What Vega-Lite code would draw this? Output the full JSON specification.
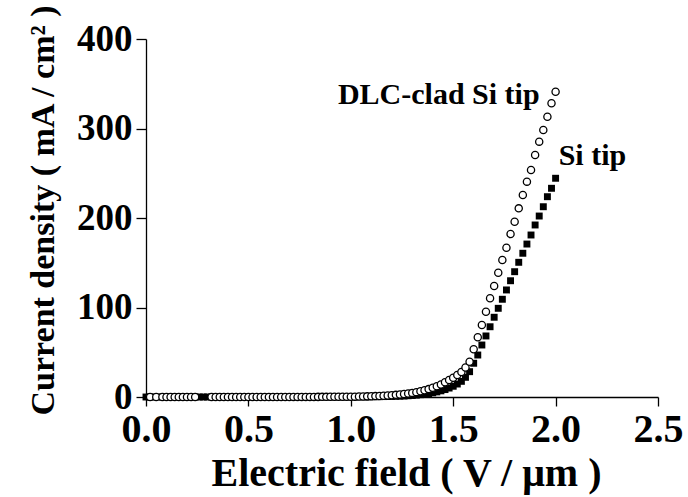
{
  "$schema": "https://vega.github.io/schema/vega-lite/v6.json",
  "autosize": {"type": "none"},
  "width": 512,
  "height": 358,
  "padding": {"left": 146, "top": 39, "right": 30, "bottom": 100},
  "background": "white",
  "config": {
    "view": {"stroke": null},
    "axis": {
      "grid": false,
      "domainColor": "black",
      "domainWidth": 1.3,
      "tickColor": "black",
      "tickWidth": 1.3,
      "labelColor": "black",
      "titleColor": "black",
      "labelFont": "Liberation Serif",
      "titleFont": "Liberation Serif",
      "labelFontWeight": "bold",
      "titleFontWeight": "bold",
      "labelOverlap": false,
      "labelFlush": false
    }
  },
  "datasets": {
    "si": [
      {"x":0.00,"y":0},{"x":0.02,"y":0},{"x":0.04,"y":0},{"x":0.06,"y":0},{"x":0.08,"y":0},{"x":0.10,"y":0},{"x":0.12,"y":0},{"x":0.14,"y":0},{"x":0.16,"y":0},{"x":0.18,"y":0},
      {"x":0.20,"y":0},{"x":0.22,"y":0},{"x":0.24,"y":0},{"x":0.26,"y":0},{"x":0.28,"y":0},{"x":0.30,"y":0},{"x":0.32,"y":0},{"x":0.34,"y":0},{"x":0.36,"y":0},{"x":0.38,"y":0},
      {"x":0.40,"y":0},{"x":0.42,"y":0},{"x":0.44,"y":0},{"x":0.46,"y":0},{"x":0.48,"y":0},{"x":0.50,"y":0},{"x":0.52,"y":0},{"x":0.54,"y":0},{"x":0.56,"y":0},{"x":0.58,"y":0},
      {"x":0.60,"y":0},{"x":0.62,"y":0},{"x":0.64,"y":0},{"x":0.66,"y":0},{"x":0.68,"y":0},{"x":0.70,"y":0},{"x":0.72,"y":0},{"x":0.74,"y":0},{"x":0.76,"y":0},{"x":0.78,"y":0},
      {"x":0.80,"y":0},{"x":0.82,"y":0},{"x":0.84,"y":0},{"x":0.86,"y":0},{"x":0.88,"y":0},{"x":0.90,"y":0},{"x":0.92,"y":0.05},{"x":0.94,"y":0.06},{"x":0.96,"y":0.08},{"x":0.98,"y":0.1},
      {"x":1.00,"y":0.12},{"x":1.02,"y":0.14},{"x":1.04,"y":0.17},{"x":1.06,"y":0.2},{"x":1.08,"y":0.24},{"x":1.10,"y":0.28},{"x":1.12,"y":0.33},{"x":1.14,"y":0.4},{"x":1.16,"y":0.47},{"x":1.18,"y":0.55},
      {"x":1.20,"y":0.65},{"x":1.22,"y":0.77},{"x":1.24,"y":0.9},{"x":1.26,"y":1.1},{"x":1.28,"y":1.4},{"x":1.30,"y":1.7},{"x":1.32,"y":2.1},{"x":1.34,"y":2.6},{"x":1.36,"y":3.2},{"x":1.38,"y":3.9},
      {"x":1.40,"y":4.7},{"x":1.42,"y":5.7},{"x":1.44,"y":6.9},{"x":1.46,"y":8.3},{"x":1.48,"y":10},{"x":1.50,"y":12},{"x":1.52,"y":14.5},{"x":1.54,"y":17.5},{"x":1.56,"y":22},{"x":1.58,"y":28.3},
      {"x":1.60,"y":37.7},{"x":1.62,"y":46.9},{"x":1.64,"y":58.1},{"x":1.66,"y":68.2},{"x":1.68,"y":78.5},{"x":1.70,"y":89.1},{"x":1.72,"y":99.1},{"x":1.74,"y":109.2},{"x":1.76,"y":119.6},{"x":1.78,"y":129.9},
      {"x":1.80,"y":140.0},{"x":1.82,"y":150.5},{"x":1.84,"y":160.6},{"x":1.86,"y":170.9},{"x":1.88,"y":181.0},{"x":1.90,"y":192.2},{"x":1.92,"y":202.2},{"x":1.94,"y":212.6},{"x":1.96,"y":223.8},{"x":1.98,"y":233.2},
      {"x":2.00,"y":244.4}
    ],
    "dlc": [
      {"x":0.02,"y":0},{"x":0.05,"y":0},{"x":0.08,"y":0},{"x":0.10,"y":0},{"x":0.12,"y":0},{"x":0.14,"y":0},{"x":0.16,"y":0},{"x":0.18,"y":0},
      {"x":0.20,"y":0},{"x":0.22,"y":0},{"x":0.24,"y":0},{"x":0.32,"y":0},{"x":0.34,"y":0},{"x":0.36,"y":0},{"x":0.38,"y":0},
      {"x":0.40,"y":0},{"x":0.42,"y":0},{"x":0.44,"y":0},{"x":0.46,"y":0},{"x":0.48,"y":0},{"x":0.50,"y":0},{"x":0.52,"y":0.05},{"x":0.54,"y":0.05},{"x":0.56,"y":0.05},{"x":0.58,"y":0.05},
      {"x":0.60,"y":0.05},{"x":0.62,"y":0.05},{"x":0.64,"y":0.05},{"x":0.66,"y":0.05},{"x":0.68,"y":0.05},{"x":0.70,"y":0.05},{"x":0.72,"y":0.1},{"x":0.74,"y":0.1},{"x":0.76,"y":0.1},{"x":0.78,"y":0.1},
      {"x":0.80,"y":0.1},{"x":0.82,"y":0.12},{"x":0.84,"y":0.14},{"x":0.86,"y":0.16},{"x":0.88,"y":0.18},{"x":0.90,"y":0.2},{"x":0.92,"y":0.22},{"x":0.94,"y":0.25},{"x":0.96,"y":0.28},{"x":0.98,"y":0.31},
      {"x":1.00,"y":0.35},{"x":1.02,"y":0.4},{"x":1.04,"y":0.5},{"x":1.06,"y":0.6},{"x":1.08,"y":0.7},{"x":1.10,"y":0.8},{"x":1.12,"y":1.0},{"x":1.14,"y":1.2},{"x":1.16,"y":1.4},{"x":1.18,"y":1.7},
      {"x":1.20,"y":2.0},{"x":1.22,"y":2.4},{"x":1.24,"y":2.8},{"x":1.26,"y":3.3},{"x":1.28,"y":3.9},{"x":1.30,"y":4.6},{"x":1.32,"y":5.4},{"x":1.34,"y":6.4},{"x":1.36,"y":7.5},{"x":1.38,"y":8.8},
      {"x":1.40,"y":10.3},{"x":1.42,"y":12},{"x":1.44,"y":14},{"x":1.46,"y":16.5},{"x":1.48,"y":19},{"x":1.50,"y":21.5},{"x":1.52,"y":24.5},{"x":1.54,"y":28},{"x":1.56,"y":33},{"x":1.58,"y":39.4},
      {"x":1.60,"y":53.3},{"x":1.62,"y":66.7},{"x":1.64,"y":80.4},{"x":1.66,"y":95.3},{"x":1.68,"y":110.3},{"x":1.70,"y":124.0},{"x":1.72,"y":138.9},{"x":1.74,"y":153.1},{"x":1.76,"y":166.8},{"x":1.78,"y":182.1},
      {"x":1.80,"y":195.9},{"x":1.82,"y":210.8},{"x":1.84,"y":225.7},{"x":1.86,"y":240.6},{"x":1.88,"y":253.6},{"x":1.90,"y":270.4},{"x":1.92,"y":285.3},{"x":1.94,"y":298.3},{"x":1.96,"y":313.2},{"x":1.98,"y":328.2},
      {"x":2.00,"y":341.1}
    ],
    "labels": [
      {"x":1.922,"y":327,"label":"DLC-clad Si tip","side":"right"},
      {"x":2.015,"y":259,"label":"Si tip","side":"left"}
    ]
  },
  "layer": [
    {
      "data": {"name": "si"},
      "mark": {"type": "square", "color": "black", "opacity": 1, "size": 48},
      "encoding": {
        "x": {
          "field": "x", "type": "quantitative",
          "scale": {"domain": [0, 2.5], "nice": false, "zero": false},
          "axis": {
            "values": [0, 0.5, 1, 1.5, 2, 2.5],
            "format": ".1f",
            "labelFontSize": 40,
            "tickSize": 9,
            "labelPadding": 3,
            "labelBaseline": "top",
            "title": "Electric field ( V / μm )",
            "titleFontSize": 40,
            "titleX": 260,
            "titleY": 88,
            "titleAlign": "center",
            "titleBaseline": "alphabetic"
          }
        },
        "y": {
          "field": "y", "type": "quantitative",
          "scale": {"domain": [0, 400], "nice": false},
          "axis": {
            "values": [0, 100, 200, 300, 400],
            "labelFontSize": 37,
            "tickSize": 10,
            "labelPadding": 4,
            "title": "Current density ( mA / cm² )",
            "titleFontSize": 34,
            "titleX": -93,
            "titleY": 171,
            "titleAlign": "center",
            "titleBaseline": "alphabetic",
            "titleAngle": -90
          }
        }
      }
    },
    {
      "data": {"name": "dlc"},
      "mark": {"type": "point", "shape": "circle", "filled": true, "fill": "white", "stroke": "black", "strokeWidth": 1.3, "opacity": 1, "size": 52},
      "encoding": {
        "x": {"field": "x", "type": "quantitative"},
        "y": {"field": "y", "type": "quantitative"}
      }
    },
    {
      "data": {"name": "labels"},
      "transform": [{"filter": "datum.side === 'right'"}],
      "mark": {"type": "text", "align": "right", "baseline": "alphabetic", "font": "Liberation Serif", "fontWeight": "bold", "fontSize": 30, "color": "black"},
      "encoding": {
        "x": {"field": "x", "type": "quantitative"},
        "y": {"field": "y", "type": "quantitative"},
        "text": {"field": "label"}
      }
    },
    {
      "data": {"name": "labels"},
      "transform": [{"filter": "datum.side === 'left'"}],
      "mark": {"type": "text", "align": "left", "baseline": "alphabetic", "font": "Liberation Serif", "fontWeight": "bold", "fontSize": 30, "color": "black"},
      "encoding": {
        "x": {"field": "x", "type": "quantitative"},
        "y": {"field": "y", "type": "quantitative"},
        "text": {"field": "label"}
      }
    }
  ]
}
